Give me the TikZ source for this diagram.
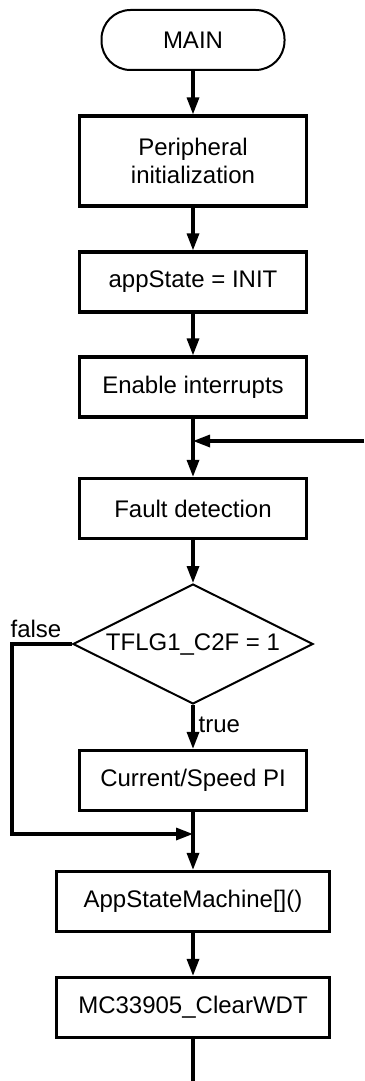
\documentclass[tikz,border=0pt]{standalone}
\usepackage{fontspec}
\setmainfont{Liberation Sans}
\usepackage{tikz}
\usetikzlibrary{shapes.geometric}
\usetikzlibrary{arrows.meta}

\begin{document}
\begin{tikzpicture}[x=0.5pt, y=-0.5pt,
    >={Triangle[length=8.5pt, width=6pt]},
    every node/.style={font=\fontsize{12}{14}\selectfont},
    flowbox/.style={draw, line width=1.6pt, minimum width=113.5pt, minimum height=30pt, inner sep=0pt, align=center},
    widebox/.style={flowbox, minimum width=136.5pt},
    termbox/.style={draw, line width=1pt, rounded corners=14.5pt, minimum width=91.5pt, minimum height=30pt},
    decbox/.style={draw, diamond, aspect=2, line width=1pt, minimum width=120pt, minimum height=60pt, inner sep=0pt},
    flow/.style={line width=1.6pt}]
      \def\cx{193}% axis of the chart
      \def\fx{12}% false branch column
      \useasboundingbox (0,0) rectangle (364,1081);
      % -------------------------------------------- boxes
      % set the nodes
      \node[termbox] at (\cx, 40)   (main) {MAIN};
      \node[flowbox, minimum height=45pt] at (\cx, 161)   (periph) {Peripheral\\initialization};
      \node[flowbox] at (\cx, 282)   (appstate) {appState = INIT};
      \node[flowbox] at (\cx, 387)   (enint) {Enable interrupts};
      \node[flowbox] at (\cx, 508.5)   (fault) {Fault detection};
      \node[decbox] at (\cx, 644)   (cond) {TFLG1\_C2F = 1};
      \node[flowbox] at (\cx, 780.5)   (curpi) {Current/Speed PI};
      \node[widebox] at (\cx, 901.5)   (appsm) {AppStateMachine[]()};
      \node[widebox] at (\cx, 1007.5)   (clrwdt) {MC33905\_ClearWDT};
      % helper points
      \coordinate (loopin) at (\cx, 441);
      \coordinate (loopsrc) at (364, 441);
      \coordinate (join) at (\cx, 834);
      \coordinate (falsetop) at (\fx, 644);
      \coordinate (falsebot) at (\fx, 834);
      \coordinate (tail) at (\cx, 1081);
      % -------------------------------------------- edges
      \draw[flow, ->] (main) -- (periph);
      \draw[flow, ->] (periph) -- (appstate);
      \draw[flow, ->] (appstate) -- (enint);
      \draw[flow, ->] (enint) -- (fault);
      \draw[flow, ->] (loopsrc) -- (loopin);
      \draw[flow, ->] (fault) -- (cond);
      \draw[flow, ->] (cond) -- (curpi) node [pos=0.45, right, inner sep=2pt] {true};
      \draw[flow, ->] (cond.west) -- (falsetop) -- (falsebot) -- (join);
      \draw[flow, ->] (curpi) -- (appsm);
      \draw[flow, ->] (appsm) -- (clrwdt);
      \draw[flow] (clrwdt) -- (tail);
      % -------------------------------------------- Names
      \node at (36, 629) (falselbl) {false};
\end{tikzpicture}
\end{document}
